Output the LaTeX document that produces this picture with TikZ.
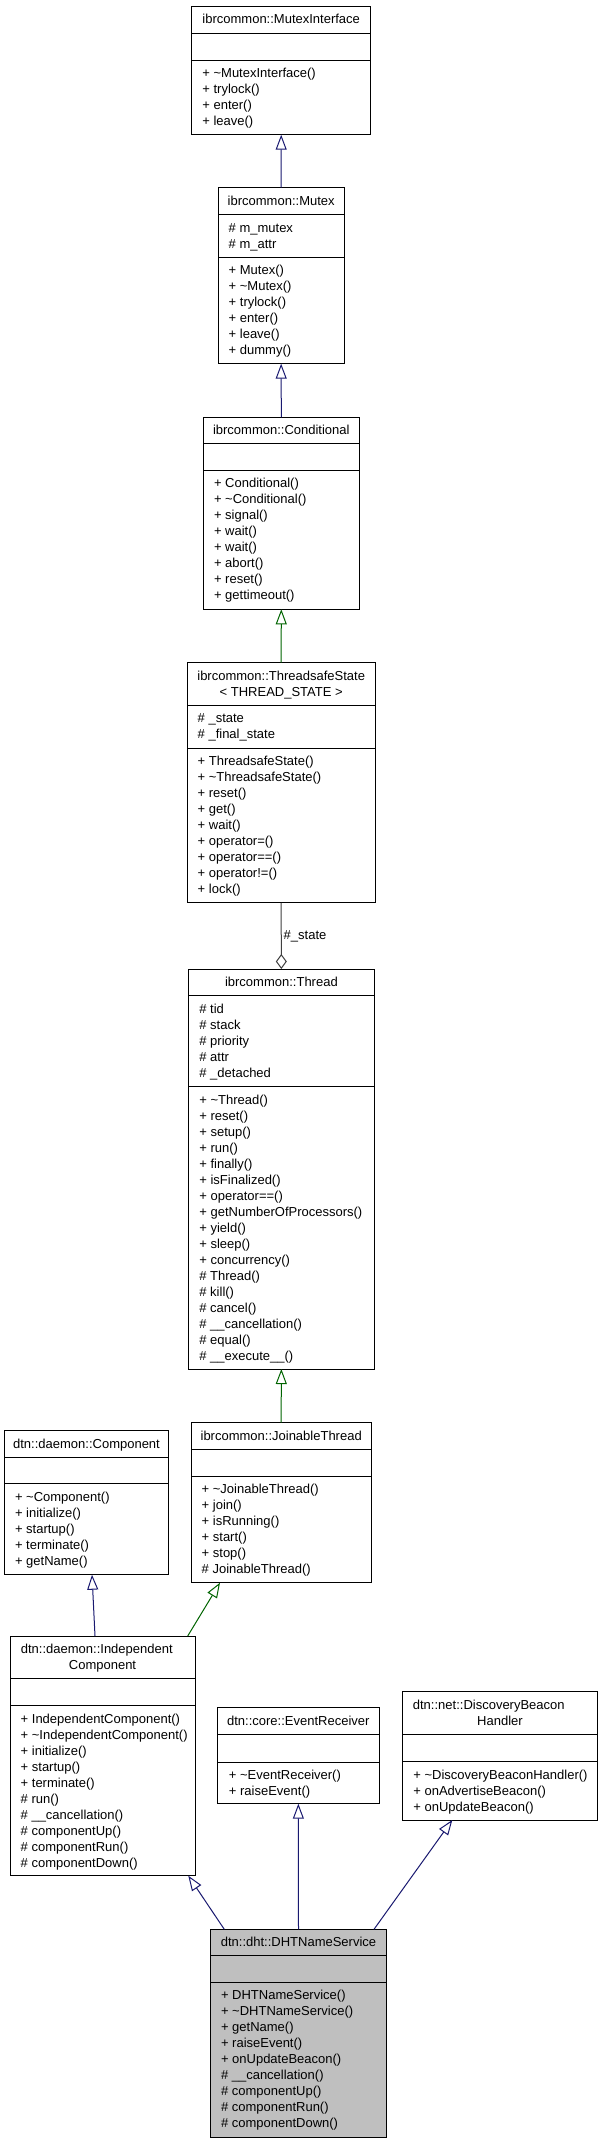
\documentclass[tikz,border=0pt]{standalone}
\usepackage{fontspec}
\setmainfont{Liberation Sans}
\usetikzlibrary{arrows.meta,calc}
\definecolor{edgeblue}{HTML}{191970}
\definecolor{edgegreen}{HTML}{006400}
\definecolor{edgegray}{HTML}{404040}
\definecolor{selfill}{HTML}{BFBFBF}
\tikzset{
  mem/.style={anchor=base west, inner sep=0pt, font=\fontsize{13}{16}\selectfont},
  ttl/.style={anchor=base, inner sep=0pt, font=\fontsize{13}{16}\selectfont},
  ttlw/.style={anchor=base west, inner sep=0pt, font=\fontsize{13}{16}\selectfont},
  boxline/.style={draw=black, line width=1pt},
  inherit/.style={line width=1pt, -{Triangle[open,length=15pt,width=11pt]}},
  bluedge/.style={inherit, draw=edgeblue},
  greenedge/.style={inherit, draw=edgegreen},
  aggedge/.style={line width=1pt, draw=edgegray, -{Diamond[open,length=15pt,width=11pt]}},
}
% name, left, top, right, bottom, sep1, sep2, fill
\newcommand\umlbox[8]{%
  \node[boxline, fill=#8, anchor=north west, minimum width={#4-#2}, minimum height={#5-#3}, inner sep=0pt, outer sep=0pt] (#1) at (#2,#3) {};
  \draw[line width=1pt] (#2,#6) -- (#4,#6) (#2,#7) -- (#4,#7);
}
% prefix, x, first baseline, pitch, list
\newcommand\members[5]{%
  \foreach \t [count=\i] in {#5} {\node[mem] (#1-\i) at (#2,{#3+#4*(\i-1)}) {\t};}%
}
\begin{document}
\begin{tikzpicture}[x=1pt,y=-1pt]
\fill[white] (0,0) rectangle (603,2144);
\useasboundingbox (0,0) rectangle (603,2144);

% MutexInterface
\umlbox{mi}{191.7}{6}{370.7}{134.7}{33}{60}{white}
\node[ttl] (mi-t) at (281.2,23.5) {ibrcommon::MutexInterface};
\members{mi-m}{202.2}{77.5}{16}{+ \textasciitilde MutexInterface(), + trylock(), + enter(), + leave()}

% Mutex
\umlbox{mutex}{218}{187.7}{344.3}{363.7}{214.7}{257.3}{white}
\node[ttl] (mutex-t) at (281.2,205.2) {ibrcommon::Mutex};
\members{mutex-a}{228.5}{232.2}{16}{\# m\_mutex, \# m\_attr}
\members{mutex-m}{228.5}{274.8}{16}{+ Mutex(), + \textasciitilde Mutex(), + trylock(), + enter(), + leave(), + dummy()}

% Conditional
\umlbox{cond}{203.3}{417.3}{359.3}{609.3}{443.7}{470.3}{white}
\node[ttl] (cond-t) at (281.3,434.8) {ibrcommon::Conditional};
\members{cond-m}{213.8}{487.8}{16}{+ Conditional(), + \textasciitilde Conditional(), + signal(), + wait(), + wait(), + abort(), + reset(), + gettimeout()}

% ThreadsafeState
\umlbox{ts}{187}{662.7}{375.3}{902.8}{705}{748.3}{white}
\node[ttl] (ts-t1) at (281.2,680.2) {ibrcommon::ThreadsafeState};
\node[ttl] (ts-t2) at (281.2,696.2) {< THREAD\_STATE >};
\members{ts-a}{197.5}{722.5}{16}{\# \_state, \# \_final\_state}
\members{ts-m}{197.5}{765.8}{16}{+ ThreadsafeState(), + \textasciitilde ThreadsafeState(), + reset(), + get(), + wait(), + operator=(), + operator==(), + operator!=(), + lock()}

% Thread
\umlbox{thread}{188.7}{969}{374}{1369}{995.8}{1086.5}{white}
\node[ttl] (thread-t) at (281.4,986.5) {ibrcommon::Thread};
\members{thread-a}{199.2}{1013.3}{16}{\# tid, \# stack, \# priority, \# attr, \# \_detached}
\members{thread-m}{199.2}{1104}{16}{+ \textasciitilde Thread(), + reset(), + setup(), + run(), + finally(), + isFinalized(), + operator==(), + getNumberOfProcessors(), + yield(), + sleep(), + concurrency(), \# Thread(), \# kill(), \# cancel(), \# \_\_cancellation(), \# equal(), \# \_\_execute\_\_()}

% Component
\umlbox{comp}{4.3}{1430.7}{168.7}{1574.7}{1457}{1483.7}{white}
\node[ttl] (comp-t) at (86.5,1448.2) {dtn::daemon::Component};
\members{comp-m}{14.8}{1501.2}{16}{+ \textasciitilde Component(), + initialize(), + startup(), + terminate(), + getName()}

% JoinableThread
\umlbox{jt}{191}{1422.7}{371.3}{1582.7}{1449}{1476}{white}
\node[ttl] (jt-t) at (281.2,1440.2) {ibrcommon::JoinableThread};
\members{jt-m}{201.5}{1493.5}{16}{+ \textasciitilde JoinableThread(), + join(), + isRunning(), + start(), + stop(), \# JoinableThread()}

% IndependentComponent
\umlbox{ic}{10}{1636}{195}{1875.7}{1678.7}{1705.7}{white}
\node[ttlw] (ic-t1) at (20.7,1653.5) {dtn::daemon::Independent};
\node[ttl] (ic-t2) at (102.5,1669.5) {Component};
\members{ic-m}{20.5}{1723.2}{16}{+ IndependentComponent(), + \textasciitilde IndependentComponent(), + initialize(), + startup(), + terminate(), \# run(), \# \_\_cancellation(), \# componentUp(), \# componentRun(), \# componentDown()}

% EventReceiver
\umlbox{er}{217.7}{1707.7}{379}{1803.7}{1734.7}{1762}{white}
\node[ttl] (er-t) at (298.3,1725.2) {dtn::core::EventReceiver};
\members{er-m}{228.7}{1779.5}{16}{+ \textasciitilde EventReceiver(), + raiseEvent()}

% DiscoveryBeaconHandler
\umlbox{dbh}{402.7}{1691.7}{597.3}{1820}{1734.7}{1761.7}{white}
\node[ttlw] (dbh-t1) at (412.7,1709.2) {dtn::net::DiscoveryBeacon};
\node[ttl] (dbh-t2) at (500,1725.2) {Handler};
\members{dbh-m}{413.2}{1779.2}{16}{+ \textasciitilde DiscoveryBeaconHandler(), + onAdvertiseBeacon(), + onUpdateBeacon()}

% DHTNameService
\umlbox{dht}{210.3}{1929.3}{386.7}{2137.3}{1955}{1982}{selfill}
\node[ttl] (dht-t) at (298.5,1946.5) {dtn::dht::DHTNameService};
\members{dht-m}{220.8}{1999.5}{16}{+ DHTNameService(), + \textasciitilde DHTNameService(), + getName(), + raiseEvent(), + onUpdateBeacon(), \# \_\_cancellation(), \# componentUp(), \# componentRun(), \# componentDown()}

% connectors
\draw[bluedge] (mutex.north) -- (mi.south);
\draw[bluedge] (cond.north) -- (mutex.south);
\draw[greenedge] (ts.north) -- (cond.south);
\draw[aggedge] (ts.south) -- (thread.north);
\node[ttlw] (state-lbl) at (283.5,939) {\#\_state};
\draw[greenedge] (jt.north) -- (thread.south);
\draw[bluedge] ($(ic.north west)+(85,0)$) -- ($(comp.south west)+(87.7,0)$);
\draw[greenedge] ($(ic.north east)+(-7.3,0)$) -- ($(jt.south west)+(29,0)$);
\draw[bluedge] ($(dht.north west)+(14,0)$) -- ($(ic.south east)+(-6.7,0)$);
\draw[bluedge] (dht.north) -- (er.south);
\draw[bluedge] ($(dht.north east)+(-12.7,0)$) -- ($(dbh.south west)+(49.6,0)$);
\end{tikzpicture}
\end{document}
